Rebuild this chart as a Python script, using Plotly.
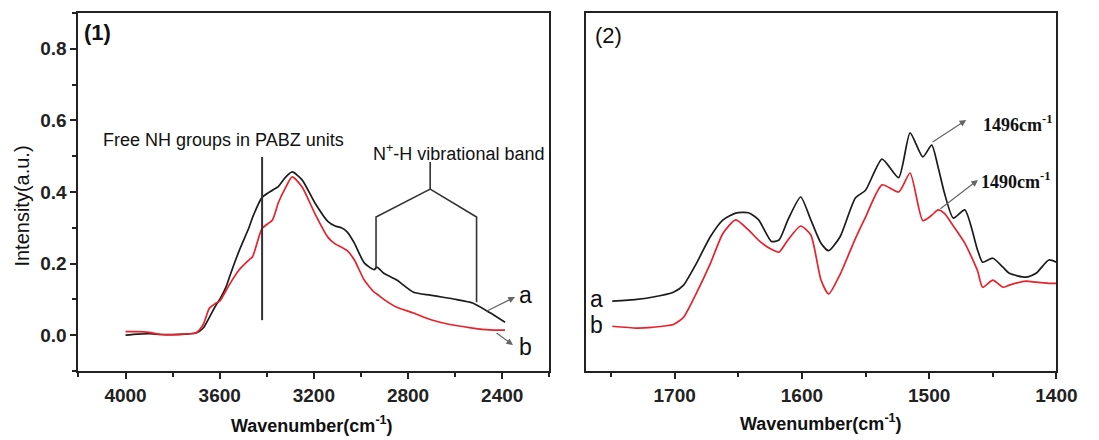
import plotly.graph_objects as go

# ---- Panel (1): N-H stretching region ----
wn_high = [4000, 3950, 3900, 3850, 3800, 3750, 3700, 3670, 3644, 3615, 3600, 3573,
           3560, 3518, 3476, 3460, 3420, 3376, 3351, 3322, 3292, 3250, 3196, 3141,
           3110, 3083, 3058, 3028, 2986, 2944, 2932, 2903, 2848, 2777, 2706, 2651,
           2597, 2526, 2455, 2388]
high_a = [0.000, 0.003, 0.004, 0.002, 0.002, 0.003, 0.006, 0.020, 0.050, 0.085, 0.100, 0.135,
          0.160, 0.235, 0.300, 0.330, 0.385, 0.405, 0.415, 0.440, 0.456, 0.434, 0.370, 0.318,
          0.305, 0.300, 0.288, 0.257, 0.202, 0.183, 0.190, 0.173, 0.154, 0.120, 0.112, 0.106,
          0.100, 0.090, 0.064, 0.036]
high_b = [0.010, 0.010, 0.008, 0.002, 0.001, 0.003, 0.007, 0.030, 0.075, 0.090, 0.095, 0.125,
          0.140, 0.182, 0.210, 0.220, 0.298, 0.322, 0.370, 0.410, 0.442, 0.414, 0.340, 0.274,
          0.255, 0.246, 0.236, 0.210, 0.154, 0.120, 0.115, 0.100, 0.078, 0.062, 0.044, 0.034,
          0.027, 0.020, 0.015, 0.014]

# ---- Panel (2): fingerprint region ----
wn_low = [1749, 1730, 1718, 1701, 1693, 1683, 1672, 1662, 1652, 1642, 1634, 1624, 1618,
          1611, 1601, 1593, 1585, 1579, 1570, 1558, 1550, 1537, 1524, 1515, 1505, 1498,
          1493, 1488, 1481, 1472, 1462, 1458, 1450, 1442, 1437, 1424, 1416, 1406, 1400]
low_a = [0.095, 0.100, 0.106, 0.120, 0.140, 0.200, 0.275, 0.322, 0.341, 0.342, 0.322, 0.262, 0.266,
         0.322, 0.386, 0.322, 0.257, 0.236, 0.275, 0.383, 0.405, 0.492, 0.440, 0.565, 0.498, 0.531,
         0.470, 0.397, 0.327, 0.350, 0.238, 0.204, 0.215, 0.190, 0.173, 0.162, 0.173, 0.210, 0.204]
low_b = [0.025, 0.020, 0.022, 0.030, 0.050, 0.117, 0.200, 0.285, 0.322, 0.294, 0.265, 0.240, 0.232,
         0.266, 0.305, 0.280, 0.154, 0.115, 0.170, 0.270, 0.330, 0.420, 0.400, 0.453, 0.320, 0.335,
         0.350, 0.340, 0.305, 0.257, 0.180, 0.134, 0.154, 0.134, 0.140, 0.151, 0.148, 0.145, 0.145]

BLACK = "#1c1c1c"
RED = "#e8212b"
AXIS = "#222222"
SANS = "Liberation Sans, Arial, sans-serif"
SERIF = "Liberation Serif, Times New Roman, serif"
W, H = 1099, 440


def px(x):
    return x / W


def py(y):
    return 1 - y / H


fig = go.Figure()
line_kw = dict(shape="spline", smoothing=0.6, width=1.7)
fig.add_trace(go.Scatter(x=wn_high, y=high_a, mode="lines", line=dict(color=BLACK, **line_kw),
                         xaxis="x", yaxis="y", showlegend=False))
fig.add_trace(go.Scatter(x=wn_high, y=high_b, mode="lines", line=dict(color=RED, **line_kw),
                         xaxis="x", yaxis="y", showlegend=False))
fig.add_trace(go.Scatter(x=wn_low, y=low_a, mode="lines", line=dict(color=BLACK, **line_kw),
                         xaxis="x2", yaxis="y2", showlegend=False))
fig.add_trace(go.Scatter(x=wn_low, y=low_b, mode="lines", line=dict(color=RED, **line_kw),
                         xaxis="x2", yaxis="y2", showlegend=False))

tickfont = dict(family=SANS, size=19, color=AXIS, weight="bold")
ydom = [py(371), py(13)]
common_axis = dict(showline=True, linecolor=AXIS, linewidth=2, mirror=True,
                   showgrid=False, zeroline=False, ticks="outside", ticklen=6,
                   tickwidth=1.5, tickcolor=AXIS, tickfont=tickfont)

fig.update_layout(
    width=W, height=H,
    margin=dict(l=0, r=0, t=0, b=0),
    paper_bgcolor="white", plot_bgcolor="white",
    xaxis=dict(domain=[px(80), px(560)], range=[4200, 2200], tick0=4000, dtick=400,
               minor=dict(ticks="outside", ticklen=4, dtick=200, tick0=4000, tickcolor=AXIS),
               anchor="y", **common_axis),
    yaxis=dict(domain=ydom, range=[-0.1, 0.9], tick0=0, dtick=0.2, tickformat=".1f",
               minor=dict(ticks="outside", ticklen=4, dtick=0.1, tick0=0, tickcolor=AXIS),
               anchor="x", **common_axis),
    xaxis2=dict(domain=[px(597), px(1077)], range=[1770, 1400], tick0=1700, dtick=100,
                minor=dict(ticks="outside", ticklen=4, dtick=50, tick0=1700, tickcolor=AXIS),
                anchor="y2", **common_axis),
    yaxis2=dict(domain=ydom, range=[-0.1, 0.9], anchor="x2", showline=True, linecolor=AXIS,
                linewidth=2, mirror=True, showgrid=False, zeroline=False,
                showticklabels=False, ticks=""),
)

# Marker line for free N-H groups and bracket for the N+-H band
fig.add_shape(type="line", xref="x", yref="y", x0=3420, x1=3420, y0=0.042, y1=0.498,
              line=dict(color="#333333", width=2))
fig.add_shape(type="path", xref="x", yref="y",
              path="M 2936,0.187 L 2936,0.33 L 2706,0.408 L 2509,0.33 L 2509,0.092",
              line=dict(color="#333333", width=1.6))
fig.add_shape(type="line", xref="x", yref="y", x0=2706, x1=2706, y0=0.408, y1=0.484,
              line=dict(color="#333333", width=1.6))


def label(x, y, text, size, family=SANS, bold=False, xanchor="center", angle=0):
    font = dict(family=family, size=size, color="#111")
    if bold:
        font["weight"] = "bold"
    return dict(x=px(x), y=py(y), xref="paper", yref="paper", text=text,
                xanchor=xanchor, yanchor="middle", textangle=angle,
                showarrow=False, font=font)


annotations = [
    # axis titles
    label(22, 206, "Intensity(a.u.)", 20, angle=-90),
    label(318, 424, "Wavenumber(cm<sup>-1</sup>)", 18, bold=True),
    label(837, 422, "Wavenumber(cm<sup>-1</sup>)", 18, bold=True),
    # panel labels
    label(84, 33, "(1)", 22, bold=True, xanchor="left"),
    label(605, 35, "(2)", 22, xanchor="left"),
    # band descriptions
    label(228, 140, "Free NH groups in PABZ units", 18),
    label(467, 152, "N<sup>+</sup>-H vibrational band", 18),
    # curve labels
    label(536, 295, "a", 23),
    label(536, 347, "b", 23),
    label(608, 299, "a", 23),
    label(608, 325, "b", 23),
    # peak labels
    label(1000, 124, "1496cm<sup>-1</sup>", 18, family=SERIF, bold=True, xanchor="left"),
    label(998, 180, "1490cm<sup>-1</sup>", 18, family=SERIF, bold=True, xanchor="left"),
]

# pointer arrows: (tail x, tail y, head x, head y) in page pixels
arrows = [
    (495, 312, 525, 297),
    (505, 332, 523, 345),
    (950, 143, 985, 120),
    (958, 210, 997, 180),
]
for x0, y0, x1, y1 in arrows:
    annotations.append(dict(x=px(x1), y=py(y1), ax=x0 - x1, ay=y0 - y1,
                            xref="paper", yref="paper", axref="pixel", ayref="pixel",
                            text="", showarrow=True, arrowhead=2, arrowsize=1.1,
                            arrowwidth=1.2, arrowcolor="#666666"))

fig.update_layout(annotations=annotations)
fig.write_html("out.html")
